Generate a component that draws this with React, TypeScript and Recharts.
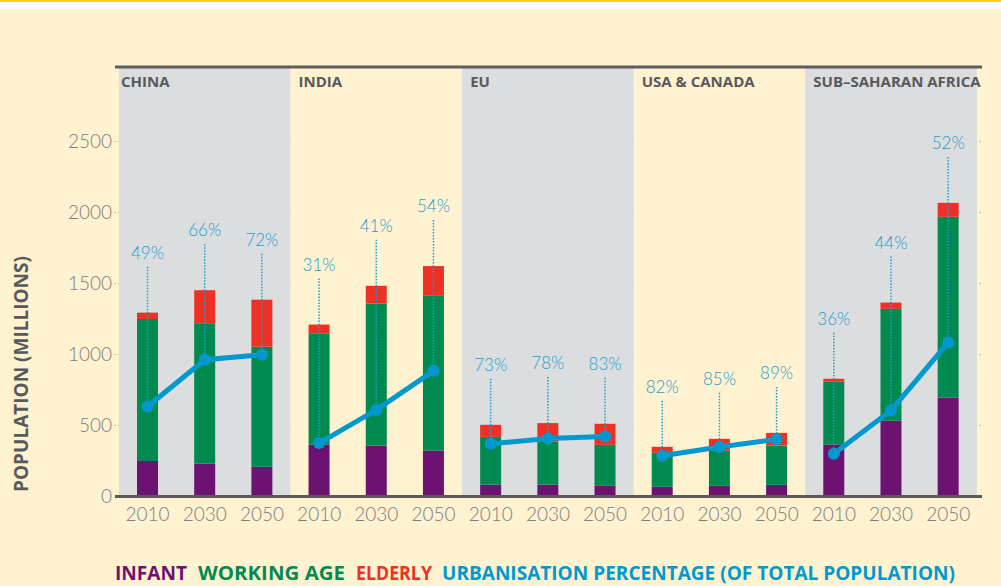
import {
  Bar,
  CartesianGrid,
  ComposedChart,
  Label,
  Line,
  ReferenceArea,
  ReferenceLine,
  XAxis,
  YAxis,
} from "recharts";

// palette
const PURPLE = "#6d1270";
const GREEN = "#008a50";
const RED = "#ee3124";
const BLUE = "#0099cf";
const BLUE_TXT = "#1b9dd0";
const PANEL = "#dcdddf";
const CREAM = "#fff2d1";
const INK = "#58595b";
const TICK = "#7d7d7d";

const REGIONS = ["CHINA", "INDIA", "EU", "USA & CANADA", "SUB–SAHARAN AFRICA"];
const YEARS = ["2010", "2030", "2050"];

// millions, 3 years per region in REGIONS order
const INFANT = [250, 230, 210, 365, 357, 322, 82, 82, 75, 68, 75, 82, 364, 533, 697];
const WORKING = [1000, 990, 845, 785, 1002, 1091, 338, 305, 289, 240, 247, 277, 446, 789, 1273];
const ELDERLY = [45, 233, 331, 61, 125, 210, 85, 130, 148, 42, 84, 89, 19, 44, 98];
// urban population (millions) where the blue dot sits, and its share in %
const URBAN = [634, 963, 998, 376, 610, 885, 371, 408, 423, 287, 348, 404, 301, 606, 1085];
const URBAN_PCT = [49, 66, 72, 31, 41, 54, 73, 78, 83, 82, 85, 89, 36, 44, 52];

const Y_TICKS = [0, 500, 1000, 1500, 2000, 2500];
const Y_MAX = 3025;
const X_DOMAIN: [number, number] = [-0.57, 14.59];

const LEGEND = [
  { label: "INFANT", color: PURPLE, x: 115, w: 72 },
  { label: "WORKING AGE", color: GREEN, x: 198, w: 147 },
  { label: "ELDERLY", color: RED, x: 356, w: 76 },
  { label: "URBANISATION PERCENTAGE (OF TOTAL POPULATION)", color: BLUE, x: 442, w: 513 },
];

const data = INFANT.map((infant, i) => {
  const row: Record<string, number> = {
    i,
    infant,
    working: WORKING[i],
    elderly: ELDERLY[i],
    urban: URBAN[i],
    pct: URBAN_PCT[i],
  };
  row["u" + Math.floor(i / 3)] = URBAN[i];
  return row;
});

const FONT = "Lato, 'Open Sans', sans-serif";

// top segment of the stack + the % callout with its dotted leader down to the dot
function ElderlyWithCallout(props: any) {
  const { x, y, width, height, payload } = props;
  if (x == null || !payload) return null;
  const ppu = height / payload.elderly; // px per million, from the library's own scale
  const base = y + height + (payload.infant + payload.working) * ppu;
  const dotY = base - payload.urban * ppu;
  const cx = x + width / 2;
  return (
    <g>
      <rect x={x} y={y} width={width} height={height} fill={RED} />
      <line
        x1={cx}
        x2={cx}
        y1={y - 46}
        y2={dotY}
        stroke={BLUE_TXT}
        strokeWidth={1.5}
        strokeDasharray="1.5 1.5"
      />
      <text
        x={cx}
        y={y - 54}
        textAnchor="middle"
        fill={BLUE_TXT}
        fontSize={17}
        fontWeight={300}
        fontFamily={FONT}
      >
        {payload.pct}%
      </text>
    </g>
  );
}

function RegionTitle({ viewBox, value, dx }: any) {
  if (!viewBox) return null;
  return (
    <text
      x={viewBox.x + dx}
      y={viewBox.y + 20}
      fill={INK}
      fontSize={15}
      fontWeight={700}
      fontFamily="'Open Sans', sans-serif"
    >
      {value}
    </text>
  );
}

export default function App() {
  return (
    <div
      style={{
        position: "fixed",
        left: 0,
        top: 0,
        width: 1001,
        height: 586,
        background: CREAM,
        overflow: "hidden",
      }}
    >
      <div style={{ position: "absolute", left: 0, top: 0, width: 1001, height: 2, background: "#ffd200" }} />
      <div style={{ position: "absolute", left: 0, top: 2, width: 1001, height: 7, background: "#ffffff" }} />

      <div style={{ position: "absolute", left: 0, top: 0 }}>
        <ComposedChart
          width={1001}
          height={540}
          data={data}
          margin={{ top: 67, right: 19, bottom: 13.5, left: 0 }}
          style={{ fontFamily: FONT }}
        >
          {REGIONS.map((r, k) => (
            <ReferenceArea
              key={r}
              x1={Math.max(X_DOMAIN[0], k * 3 - 0.5)}
              x2={Math.min(X_DOMAIN[1], k * 3 + 2.5)}
              y1={0}
              y2={Y_MAX}
              fill={k % 2 === 0 ? PANEL : CREAM}
              fillOpacity={1}
              stroke="none"
            >
              <Label value={r} content={<RegionTitle dx={k === 0 ? 2 : 8} />} />
            </ReferenceArea>
          ))}
          <CartesianGrid
            vertical={false}
            stroke="#8d8d8d"
            strokeDasharray="1 2.5"
            strokeWidth={1}
          />
          <XAxis
            type="number"
            dataKey="i"
            domain={X_DOMAIN}
            ticks={data.map((d) => d.i)}
            tickFormatter={(v: number) => YEARS[v % 3]}
            allowDataOverflow
            height={30}
            tickSize={0}
            tickMargin={11}
            axisLine={{ stroke: "#5a5a5a", strokeWidth: 3 }}
            tick={{ fill: TICK, fontSize: 19, fontWeight: 300 }}
          />
          <YAxis
            domain={[0, Y_MAX]}
            ticks={Y_TICKS}
            width={115}
            tickSize={0}
            tickMargin={3}
            axisLine={false}
            tick={{ fill: TICK, fontSize: 19, fontWeight: 300 }}
          />
          <ReferenceLine y={Y_MAX} stroke="#5d5d5d" strokeWidth={3} ifOverflow="visible" />
          <Bar dataKey="infant" stackId="pop" fill={PURPLE} barSize={21} isAnimationActive={false} />
          <Bar dataKey="working" stackId="pop" fill={GREEN} barSize={21} isAnimationActive={false} />
          <Bar
            dataKey="elderly"
            stackId="pop"
            fill={RED}
            barSize={21}
            shape={<ElderlyWithCallout />}
            isAnimationActive={false}
          />
          {REGIONS.map((r, k) => (
            <Line
              key={r}
              dataKey={"u" + k}
              type="linear"
              stroke={BLUE}
              strokeWidth={5}
              dot={{ r: 6, fill: BLUE, stroke: "none" }}
              activeDot={false}
              connectNulls={false}
              isAnimationActive={false}
            />
          ))}
        </ComposedChart>
      </div>

      <div
        style={{
          position: "absolute",
          left: 21,
          top: 374,
          transform: "translate(-50%, -50%) rotate(-90deg)",
          whiteSpace: "nowrap",
          fontFamily: "'Open Sans', sans-serif",
          fontWeight: 700,
          fontSize: 19,
          color: INK,
        }}
      >
        POPULATION (MILLIONS)
      </div>

      <svg
        width={1001}
        height={40}
        style={{ position: "absolute", left: 0, top: 546 }}
      >
        {LEGEND.map((l) => (
          <text
            key={l.label}
            x={l.x}
            y={34}
            fill={l.color}
            fontFamily="'Open Sans', sans-serif"
            fontWeight={700}
            fontSize={19}
            textLength={l.w}
            lengthAdjust="spacingAndGlyphs"
          >
            {l.label}
          </text>
        ))}
      </svg>
    </div>
  );
}
